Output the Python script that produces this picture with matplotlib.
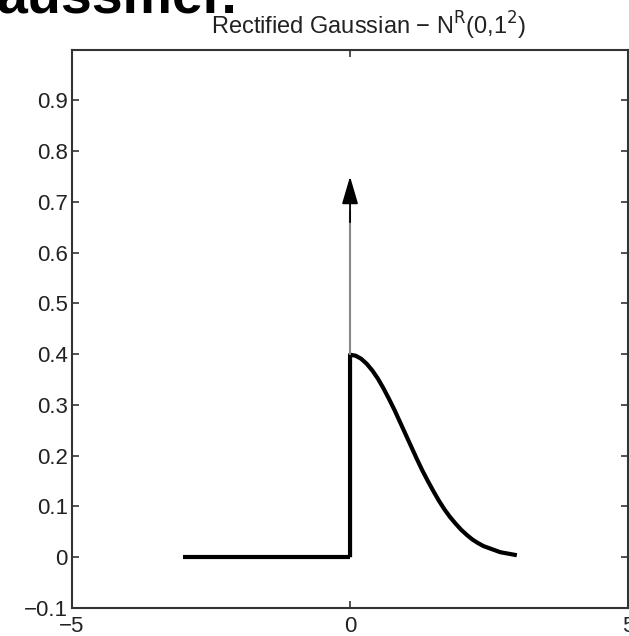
import matplotlib
matplotlib.use('Agg')
import matplotlib.pyplot as plt

# valori
x_zero = [-3.0, 0.0]
y_zero = [0.0, 0.0]
x_curve = [0.0, 0.0, 0.1, 0.2, 0.3, 0.4, 0.5, 0.6, 0.7, 0.8, 0.9, 1.0,
           1.1, 1.2, 1.3, 1.4, 1.5, 1.6, 1.7, 1.8, 1.9, 2.0,
           2.1, 2.2, 2.3, 2.4, 2.5, 2.6, 2.7, 2.8, 2.9, 3.0]
y_curve = [0.0, 0.399, 0.397, 0.391, 0.381, 0.368, 0.352, 0.333, 0.312, 0.290, 0.266, 0.242,
           0.218, 0.194, 0.171, 0.150, 0.130, 0.111, 0.094, 0.079, 0.066, 0.054,
           0.044, 0.035, 0.028, 0.022, 0.018, 0.014, 0.010, 0.008, 0.006, 0.004]
arrow_x = 0.0
arrow_start = 0.4
arrow_base = 0.68
arrow_tip = 0.75
x_ticks = [-5, 0, 5]
y_ticks = [-0.1, 0, 0.1, 0.2, 0.3, 0.4, 0.5, 0.6, 0.7, 0.8, 0.9]
y_ticklabels = ['\u22120.1', '0', '0.1', '0.2', '0.3', '0.4', '0.5', '0.6', '0.7', '0.8', '0.9']
x_ticklabels = ['\u22125', '0', '5']

plt.rcParams['font.family'] = ['Liberation Sans', 'DejaVu Sans']

fig = plt.figure(figsize=(6.29, 6.36), dpi=100)
ax = fig.add_axes([0.1145, 0.044, 0.884, 0.878])

# linea a zero e gaussiana rettificata
ax.plot(x_zero, y_zero, color='black', lw=3, solid_capstyle='butt')
ax.plot(x_curve, y_curve, color='black', lw=3, solid_joinstyle='round', solid_capstyle='butt')

# freccia (massa in zero): asta grigia e punta nera
ax.plot([arrow_x, arrow_x], [arrow_start, arrow_base], color='#888888', lw=1.5)
ax.annotate('', xy=(arrow_x, arrow_tip), xytext=(arrow_x, arrow_base - 0.02),
            arrowprops=dict(arrowstyle='-|>,head_length=1.7,head_width=0.5',
                            color='black', lw=1.3, shrinkA=0, shrinkB=0))

# Personalizzazioni
ax.set_xlim(-5, 5)
ax.set_ylim(-0.1, 1.0)
ax.set_xticks(x_ticks)
ax.set_xticklabels(x_ticklabels)
ax.set_yticks(y_ticks)
ax.set_yticklabels(y_ticklabels)
ax.tick_params(direction='in', length=5, width=1.2, colors='#333333', labelcolor='#222222',
               labelsize=16, top=True, right=True)
ax.tick_params(axis='x', pad=6)
ax.tick_params(axis='y', pad=3)
for s in ax.spines.values():
    s.set_linewidth(1.5)
    s.set_color('#333333')

fig.text(369 / 629, 1 - 26 / 636, 'Rectified Gaussian \u2212 N$^{\\mathrm{R}}$(0,1$^{\\mathrm{2}}$)',
         ha='center', va='center', fontsize=17, color='#222222')

# testo grande tagliato in alto
fig.text(-0.005, 1 - 14 / 636, 'aussmer.', ha='left', va='baseline',
         fontsize=40, fontweight='bold', color='black')

plt.savefig('out.png', dpi=100)
plt.close()
